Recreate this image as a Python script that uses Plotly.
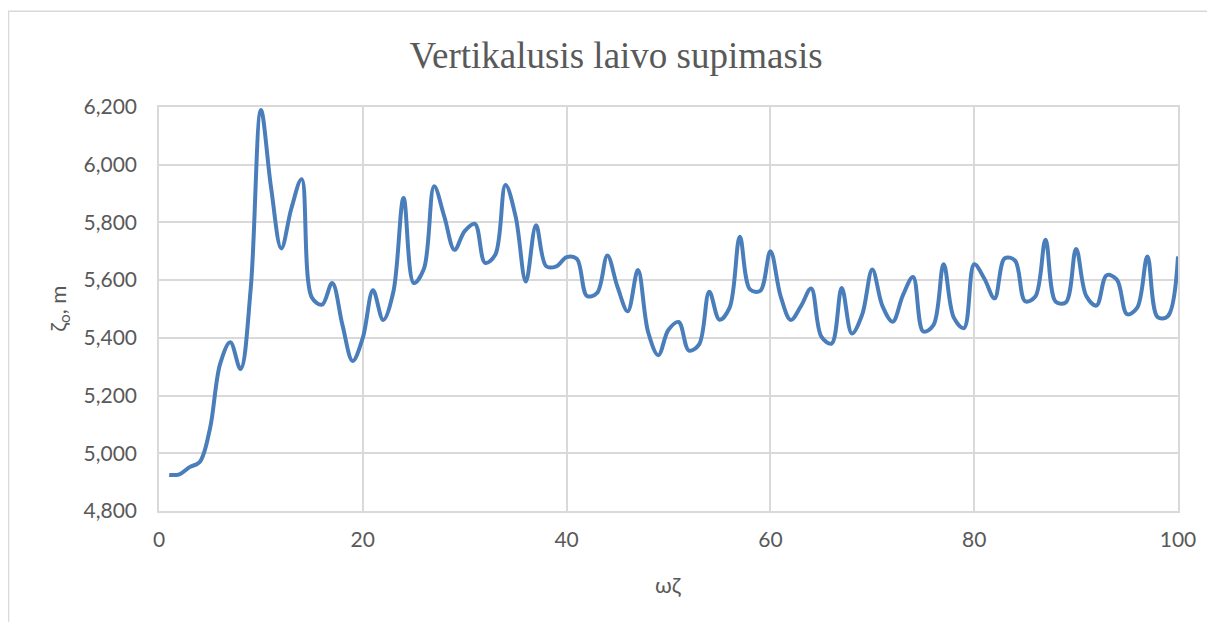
import plotly.graph_objects as go

# data (x = 1..100)
omega_zeta = list(range(1, 101))
zeta_o = [
    4925, 4927, 4952, 4970, 5085, 5310, 5385, 5292, 5570, 6190,
    5920, 5710, 5850, 5950, 5540, 5515, 5590, 5445, 5320, 5400,
    5565, 5462, 5560, 5885, 5590, 5640, 5925, 5820, 5705, 5770,
    5795, 5660, 5688, 5930, 5820, 5595, 5790, 5648, 5648, 5680,
    5674, 5545, 5556, 5685, 5576, 5492, 5635, 5420, 5340, 5428,
    5455, 5356, 5377, 5560, 5463, 5505, 5750, 5568, 5563, 5700,
    5545, 5462, 5510, 5571, 5404, 5380, 5573, 5415, 5480, 5637,
    5510, 5456, 5547, 5611, 5422, 5444, 5655, 5470, 5434, 5655,
    5605, 5537, 5676, 5668, 5527, 5543, 5740, 5525, 5523, 5708,
    5545, 5512, 5617, 5602, 5482, 5505, 5682, 5472, 5475, 5682,
]

title_text = "Vertikalusis laivo supimasis"
x_title = "ωζ"
y_title = "ζ<sub>o</sub>, m"

grid = "#d9d9d9"
txt = "#595959"

fig = go.Figure()
fig.add_trace(go.Scatter(
    x=omega_zeta,
    y=zeta_o,
    mode="lines",
    line=dict(color="#4a7ebb", width=4, shape="spline", smoothing=1),
    showlegend=False,
))

fig.update_xaxes(
    range=[0, 100], dtick=20, tick0=0,
    showgrid=True, gridcolor=grid, gridwidth=1.5,
    showline=True, linecolor=grid, linewidth=1.5, mirror=True,
    zeroline=False, ticks="", ticklabelstandoff=9,
    tickfont=dict(family="Lato", size=21, color=txt),
)
fig.update_yaxes(
    range=[4800, 6200], dtick=200, tick0=4800, tickformat=",d",
    showgrid=True, gridcolor=grid, gridwidth=1.5,
    showline=True, linecolor=grid, linewidth=1.5, mirror=True,
    zeroline=False, ticks="", ticklabelstandoff=16,
    tickfont=dict(family="Lato", size=21, color=txt),
)

# the page body adds an 8px offset, so margins are shifted by -8
fig.update_layout(
    width=1215, height=622,
    margin=dict(l=151, r=45, t=99, b=119),
    paper_bgcolor="white",
    plot_bgcolor="white",
    title=dict(
        text=title_text, x=608 / 1215, xanchor="center", xref="container",
        y=1 - 47 / 622, yanchor="middle", yref="container",
        font=dict(family="Liberation Serif", size=37, color=txt),
    ),
    annotations=[
        dict(text=x_title, xref="paper", yref="paper", x=0.5, y=-0.183,
             showarrow=False, xanchor="center", yanchor="middle",
             font=dict(family="Lato", size=22, color=txt)),
        dict(text=y_title, xref="paper", yref="paper", x=-0.0985, y=0.5,
             showarrow=False, xanchor="center", yanchor="middle", textangle=-90,
             font=dict(family="Lato", size=22, color=txt)),
    ],
    shapes=[
        # outer chart-area border (left and top visible in the reference)
        dict(type="rect", xref="paper", yref="paper",
             x0=-0.1477, x1=1.2, y0=-0.4, y1=1.2367,
             line=dict(color=grid, width=1.5), layer="below"),
    ],
)

fig.write_html("out.html")
